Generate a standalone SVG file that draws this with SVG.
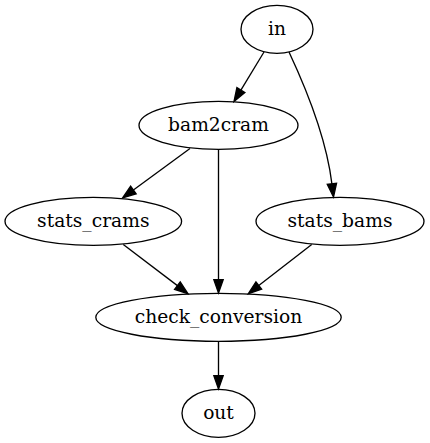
<svg xmlns="http://www.w3.org/2000/svg" width="430" height="443" viewBox="0 0 430 443">
<style>
.node ellipse{fill:none;stroke:#000;stroke-width:1.33}
.node text{font-family:'DejaVu Serif',serif;font-size:18.67px;fill:#000;text-anchor:middle}
.edges path{fill:none;stroke:#000;stroke-width:1.33}
</style>
<defs>
<marker id="arr" markerUnits="userSpaceOnUse" markerWidth="16" markerHeight="12" refX="0" refY="0" viewBox="0 -6 16 12" orient="auto" overflow="visible">
<path d="M0,-4.67 L13.33,0 L0,4.67 Z" fill="#000" stroke="#000" stroke-width="1.33"/>
</marker>
</defs>
<rect width="430" height="443" fill="#fff"/>
<g class="edges">
<path d="M264,52 L240.9,90.1" marker-end="url(#arr)"/>
<path d="M289,52 C304,84 326,135 331.9,183.8" marker-end="url(#arr)"/>
<path d="M190,148.5 L133.4,190" marker-end="url(#arr)"/>
<path d="M218.5,149.3 L218.5,279.7" marker-end="url(#arr)"/>
<path d="M123.3,244.5 L177.4,285.6" marker-end="url(#arr)"/>
<path d="M311.7,244.5 L258.8,285.5" marker-end="url(#arr)"/>
<path d="M218.5,341.3 L218.5,375.7" marker-end="url(#arr)"/>
</g>
<g id="in" class="node"><ellipse cx="277" cy="29.3" rx="36" ry="24"/><text x="277" y="35">in</text></g>
<g id="bam2cram" class="node"><ellipse cx="218.5" cy="125.3" rx="79.5" ry="24"/><text x="218.5" y="131">bam2cram</text></g>
<g id="stats_crams" class="node"><ellipse cx="93.3" cy="221.3" rx="88.3" ry="24"/><text x="93.3" y="227">stats_crams</text></g>
<g id="stats_bams" class="node"><ellipse cx="340" cy="221.3" rx="84" ry="24"/><text x="340" y="227">stats_bams</text></g>
<g id="check_conversion" class="node"><ellipse cx="218.5" cy="317.3" rx="122.7" ry="24"/><text x="218.5" y="323">check_conversion</text></g>
<g id="out" class="node"><ellipse cx="218.5" cy="413.3" rx="36.5" ry="24"/><text x="218.5" y="419">out</text></g>
</svg>
